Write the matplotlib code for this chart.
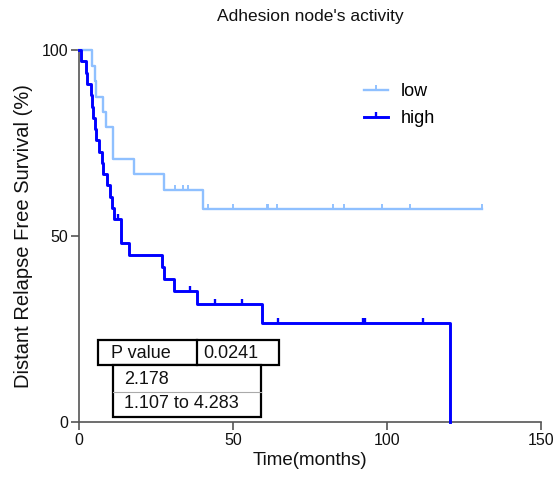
import numpy as np
import matplotlib
matplotlib.use('Agg')
import matplotlib.pyplot as plt
from matplotlib.lines import Line2D
from matplotlib.patches import Rectangle

plt.rcParams['font.family'] = ['Liberation Sans', 'DejaVu Sans']

# step curves (time in months, survival in %)
low_times = [0, 4.1, 5.1, 5.5, 7.7, 8.7, 11.1, 18.0, 27.6, 40.1, 130.7]
low_surv = [100, 95.8, 91.7, 87.5, 83.3, 79.2, 70.8, 66.7, 62.5, 57.3, 57.3]
low_censor = [31.2, 33.7, 35.3, 42.0, 50.1, 61.0, 61.5, 64.4, 82.6, 86.0, 98.3, 107.5, 130.7]

high_times = [0, 0.5, 2.2, 2.7, 3.8, 4.3, 4.6, 5.1, 5.4, 6.6, 7.4, 7.7, 9.0, 10.1,
              10.8, 11.4, 13.5, 16.2, 26.8, 27.7, 30.8, 38.4, 59.3, 120.5]
high_surv = [100, 97.0, 93.9, 90.9, 87.9, 84.8, 81.8, 78.8, 75.8, 72.7, 69.7, 66.7,
             63.6, 60.6, 57.6, 54.5, 48.1, 44.9, 41.7, 38.5, 35.3, 31.8, 26.5, 0]
high_censor = [12.6, 36.0, 44.2, 52.8, 64.6, 92.3, 92.9, 111.8]

groups = ['low', 'high']
colors = ['#8fc0ff', '#0000ff']
widths = [1.7, 2.1]

p_value = '0.0241'
hazard_ratio = '2.178'
ci_text = '1.107 to 4.283'


def surv_at(times, surv, t):
    idx = np.searchsorted(times, t, side='right') - 1
    return np.array(surv)[idx]


fig = plt.figure(figsize=(5.56, 4.79), dpi=100)
ax = fig.add_axes([79 / 556, 1 - 422 / 479, 462 / 556, 372 / 479])

curves = [(low_times, low_surv, low_censor), (high_times, high_surv, high_censor)]
handles = []
for (t, s, c), name, col, lw in zip(curves, groups, colors, widths):
    ax.step(t, s, where='post', color=col, lw=lw, clip_on=False, zorder=3)
    ax.plot(c, surv_at(t, s, c), ls='none', marker=2, ms=3.5, mew=lw * 0.8,
            color=col, clip_on=False, zorder=3)
    handles.append(Line2D([], [], color=col, lw=lw, marker=2, ms=3.5, mew=lw * 0.8))

ax.set_xlim(0, 150)
ax.set_ylim(0, 100)
ax.set_xticks([0, 50, 100, 150])
ax.set_yticks([0, 50, 100])
for side in ['top', 'right']:
    ax.spines[side].set_visible(False)
for side in ['left', 'bottom']:
    ax.spines[side].set_color('#555555')
    ax.spines[side].set_linewidth(1.2)
ax.tick_params(direction='out', length=6, width=1.2, color='#555555',
               labelsize=11.5, labelcolor='#111111', pad=2)
ax.set_xlabel('Time(months)', fontsize=13.5, color='#111111', labelpad=3)
ax.set_ylabel('Distant Relapse Free Survival (%)', fontsize=14.5, color='#111111', labelpad=6)
ax.set_title("Adhesion node's activity", fontsize=12.5, color='#111111', pad=21)

ax.legend(handles, groups, loc='upper left', bbox_to_anchor=(355 / 556, 1 - 74 / 479),
          bbox_transform=fig.transFigure, frameon=False, fontsize=13,
          handlelength=1.3, handletextpad=0.75, labelspacing=0.55, borderpad=0)

# result table drawn in pixel space
ov = fig.add_axes([0, 0, 1, 1], zorder=5)
ov.set_xlim(0, 556)
ov.set_ylim(479, 0)
ov.axis('off')
ov.add_patch(Rectangle((98, 340), 181, 25, fill=True, fc='white', ec='black', lw=1.6))
ov.plot([197, 197], [340, 365], color='black', lw=1.6)
ov.add_patch(Rectangle((113, 365), 148, 52, fill=True, fc='white', ec='black', lw=1.6))
ov.plot([113, 261], [391.5, 391.5], color='#aaaaaa', lw=0.8)
ov.text(111, 353, 'P value', fontsize=13, va='center', ha='left', color='#111111')
ov.text(203, 353, p_value, fontsize=13, va='center', ha='left', color='#111111')
ov.text(124, 379, hazard_ratio, fontsize=13, va='center', ha='left', color='#111111')
ov.text(124, 404, ci_text, fontsize=13, va='center', ha='left', color='#111111')

fig.savefig('out.png', dpi=100)
